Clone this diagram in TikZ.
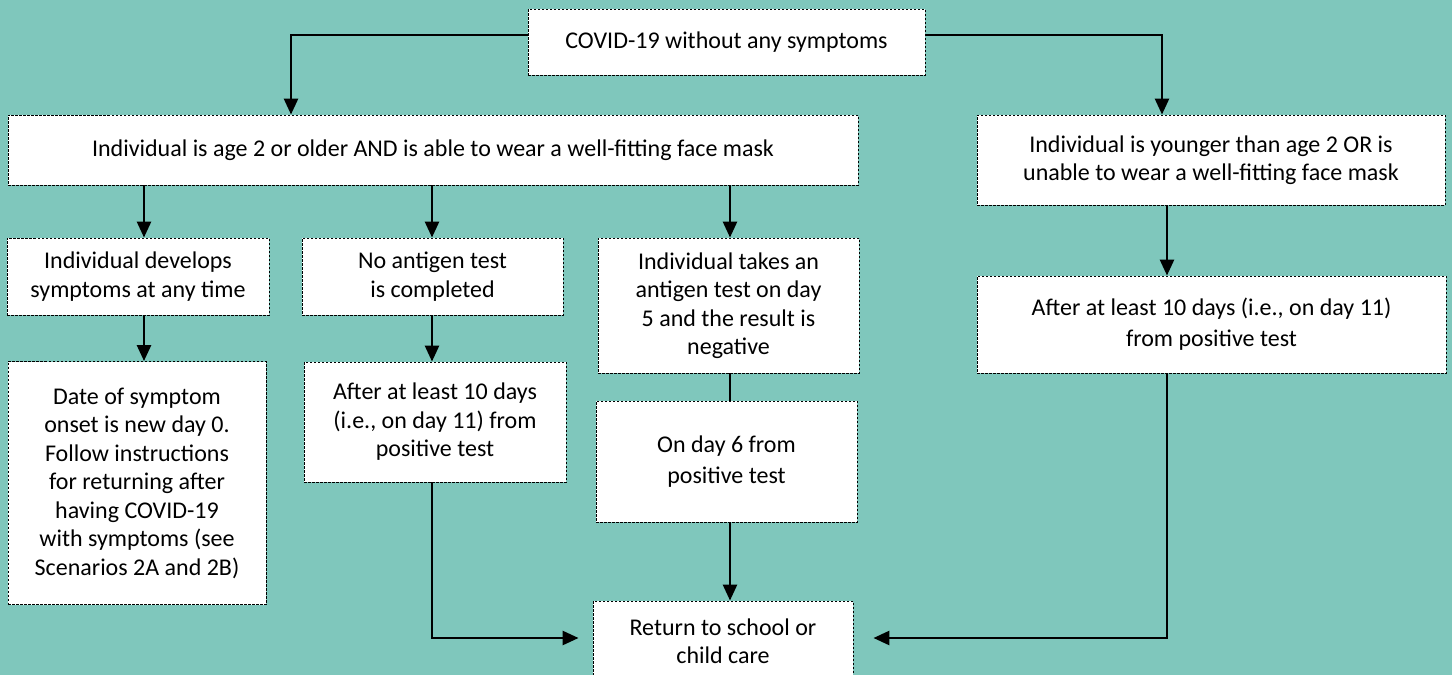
\documentclass[tikz,border=0pt]{standalone}
\usepackage{fontspec}
\setmainfont{Carlito}
\usetikzlibrary{arrows.meta}
\definecolor{bg}{HTML}{7FC7BC}
\begin{document}
\begin{tikzpicture}[x=1pt,y=-1pt,
  box/.style={draw=black, dash pattern=on 2.5pt off 1.5pt, line width=0.9pt, fill=white,
    inner sep=0pt, align=center, font=\fontsize{24}{28.5}\selectfont},
  arr/.style={line width=2.7pt, -{Triangle[length=16pt,width=14pt]}},
  ln/.style={line width=2.7pt}]
\fill[bg] (0,0) rectangle (1452,675);
\useasboundingbox (0,0) rectangle (1452,675);

\node[box, minimum width=397pt, minimum height=66pt] (top) at (726.5,42) {COVID-19 without any symptoms};
\node[box, minimum width=850pt, minimum height=70pt] (A) at (433,150) {Individual is age 2 or older AND is able to wear a well-fitting face mask};
\node[box, minimum width=468pt, minimum height=90pt, font=\fontsize{24}{27.5}\selectfont] (B) at (1211,160) {Individual is younger than age 2 OR is\\unable to wear a well-fitting face mask};
\node[box, minimum width=262pt, minimum height=77pt] (C1) at (138,276.5) {Individual develops\\symptoms at any time};
\node[box, minimum width=261pt, minimum height=77pt] (C2) at (432.5,276.5) {No antigen test\\is completed};
\node[box, minimum width=261pt, minimum height=135pt] (C3) at (728.5,305.5) {Individual takes an\\antigen test on day\\5 and the result is\\negative};
\node[box, minimum width=258pt, minimum height=243pt] (D1) at (137,483) {Date of symptom\\onset is new day 0.\\Follow instructions\\for returning after\\having COVID-19\\with symptoms (see\\Scenarios 2A and 2B)};
\node[box, minimum width=262pt, minimum height=120pt] (D2) at (435,422) {After at least 10 days\\(i.e., on day 11) from\\positive test};
\node[box, minimum width=261pt, minimum height=121pt, font=\fontsize{24}{31}\selectfont] (D3) at (726.5,461.5) {On day 6 from\\positive test};
\node[box, minimum width=469pt, minimum height=97pt, font=\fontsize{24}{31}\selectfont] (B2) at (1211.5,324.5) {After at least 10 days (i.e., on day 11)\\from positive test};
\node[box, minimum width=260pt, minimum height=80pt] (F) at (723,641) {Return to school or\\child care};

\coordinate (xa) at (291,0);
\coordinate (xb) at (1162,0);
\coordinate (x1) at (144,0);
\coordinate (x2) at (432,0);
\coordinate (x3) at (730,0);
\coordinate (x4) at (1167,0);
\coordinate (yt) at (0,35);
\coordinate (yf) at (0,638);

\draw[arr] (top.west |- yt) -| (A.north -| xa);
\draw[arr] (top.east |- yt) -| (B.north -| xb);
\draw[arr] (A.south -| x1) -- (C1.north -| x1);
\draw[arr] (A.south -| x2) -- (C2.north -| x2);
\draw[arr] (A.south -| x3) -- (C3.north -| x3);
\draw[arr] (C1.south -| x1) -- (D1.north -| x1);
\draw[arr] (C2.south -| x2) -- (D2.north -| x2);
\draw[ln] (C3.south -| x3) -- (D3.north -| x3);
\draw[arr] (D3.south -| x3) -- (F.north -| x3);
\draw[arr] (B.south -| x4) -- (B2.north -| x4);
\draw[arr, shorten >=14pt] (D2.south -| x2) |- (F.west |- yf);
\draw[arr, shorten >=20pt] (B2.south -| x4) |- (F.east |- yf);
\end{tikzpicture}
\end{document}
